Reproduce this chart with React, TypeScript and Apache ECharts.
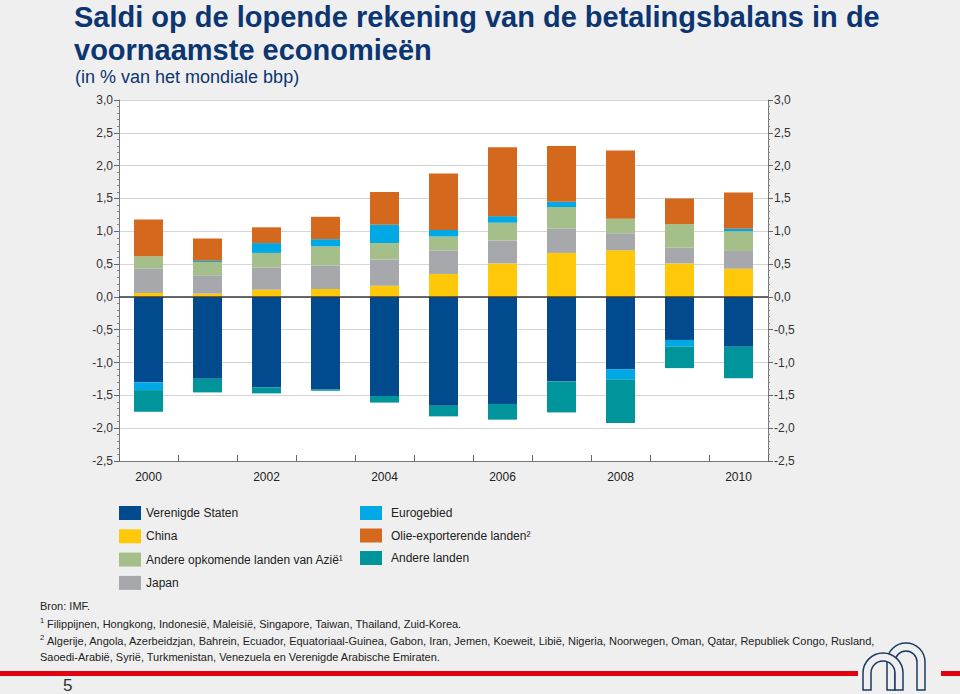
import React, { useEffect, useRef } from "react";
import * as echarts from "echarts";

const categories = ["2000", "2001", "2002", "2003", "2004", "2005", "2006", "2007", "2008", "2009", "2010"];
const verenigdeStaten = [-1.3, -1.245, -1.38, -1.41, -1.51, -1.66, -1.63, -1.29, -1.1, -0.655, -0.76];
const china = [0.06, 0.05, 0.11, 0.12, 0.17, 0.35, 0.51, 0.67, 0.71, 0.51, 0.43];
const japan = [0.37, 0.28, 0.34, 0.36, 0.4, 0.36, 0.35, 0.37, 0.26, 0.24, 0.27];
const andereAzie = [0.19, 0.2, 0.22, 0.29, 0.25, 0.21, 0.27, 0.33, 0.22, 0.36, 0.3];
const eurogebied = [-0.12, 0.02, 0.15, 0.11, 0.28, 0.1, 0.1, 0.08, -0.16, -0.1, 0.04];
const olie = [0.56, 0.34, 0.24, 0.34, 0.5, 0.86, 1.05, 0.85, 1.04, 0.39, 0.55];
const andereLanden = [-0.33, -0.21, -0.09, -0.02, -0.1, -0.16, -0.24, -0.47, -0.66, -0.33, -0.48];

const yTicks = { min: -2.5, max: 3, interval: 0.5 };

const NAMES = {
  us: "Verenigde Staten",
  china: "China",
  azie: "Andere opkomende landen van Azië¹",
  japan: "Japan",
  euro: "Eurogebied",
  olie: "Olie-exporterende landen²",
  andere: "Andere landen",
};

const COLORS = {
  us: "#004a8d",
  china: "#ffc90a",
  azie: "#a5bf8b",
  japan: "#a7a8ab",
  euro: "#00a8e6",
  olie: "#d4681c",
  andere: "#00959b",
};

const FONT = "'Liberation Sans', Arial, Helvetica, sans-serif";
const NAVY = "#0c3672";

const archL =
  "M863,690 L863,673 A20,20 0 0 1 903,673 L903,690 L895,690 L895,673 A12,12 0 0 0 871,673 L871,690 Z";
const archR =
  "M887,690 L887,662 A19,19 0 0 1 925,662 L925,690 L917,690 L917,662 A11,11 0 0 0 895,662 L895,690 Z";

let registered = false;
function registerShapes() {
  if (registered) return;
  registered = true;
  echarts.graphic.registerShape("archL", echarts.graphic.extendPath(archL, {}) as any);
  echarts.graphic.registerShape("archR", echarts.graphic.extendPath(archR, {}) as any);
}

export default function App() {
  const ref = useRef<HTMLDivElement>(null);
  useEffect(() => {
    if (!ref.current) return;
    registerShapes();
    const chart = echarts.init(ref.current, null, { renderer: "svg" });
    const fmt = (v: number) => v.toFixed(1).replace(".", ",");
    const mkSeries = (key: keyof typeof NAMES, data: number[], extra: any = {}) => ({
      type: "bar",
      name: NAMES[key],
      stack: "total",
      data,
      barWidth: 29,
      itemStyle: { color: COLORS[key] },
      emphasis: { disabled: true },
      ...extra,
    });
    const yAxisBase = {
      type: "value",
      min: yTicks.min,
      max: yTicks.max,
      interval: yTicks.interval,
      axisLabel: { formatter: fmt, color: "#333", fontFamily: FONT, fontSize: 12, margin: 6 },
      axisTick: { show: true, length: 5, lineStyle: { color: "#666" } },
      minorTick: { show: true, splitNumber: 5, length: 2, lineStyle: { color: "#888" } },
      axisLine: { show: true, lineStyle: { color: "#777", width: 1 } },
    };
    const foot = "11px " + FONT;
    chart.setOption({
      animation: false,
      backgroundColor: "#efefef",
      textStyle: { fontFamily: FONT },
      title: [
        {
          text: "Saldi op de lopende rekening van de betalingsbalans in de\nvoornaamste economieën",
          left: 74,
          top: 0,
          padding: 0,
          textStyle: { color: NAVY, fontSize: 29, fontWeight: "bold", fontFamily: FONT, lineHeight: 33 },
        },
        {
          text: "(in % van het mondiale bbp)",
          left: 75,
          top: 68,
          padding: 0,
          textStyle: { color: NAVY, fontSize: 18, fontWeight: "normal", fontFamily: FONT },
        },
      ],
      grid: {
        left: 119,
        right: 192,
        top: 100,
        bottom: 233,
        show: true,
        backgroundColor: "#ffffff",
        borderWidth: 0,
      },
      xAxis: {
        type: "category",
        data: categories,
        axisLine: { onZero: false, lineStyle: { color: "#777" } },
        axisTick: { show: true, inside: true, length: 6, interval: 0, lineStyle: { color: "#666" } },
        axisLabel: { interval: 1, color: "#222", fontSize: 12, fontFamily: FONT, margin: 10 },
        splitLine: { show: false },
      },
      yAxis: [
        {
          ...yAxisBase,
          position: "left",
          splitLine: { show: true, lineStyle: { color: "#d4d4d4", width: 1 } },
        },
        {
          ...yAxisBase,
          position: "right",
          splitLine: { show: false },
        },
      ],
      legend: [
        {
          data: [NAMES.us, NAMES.china, NAMES.azie, NAMES.japan],
          orient: "vertical",
          left: 119,
          top: 506,
          padding: 0,
          itemWidth: 22,
          itemHeight: 14,
          itemGap: 9.3,
          icon: "rect",
          selectedMode: false,
          textStyle: { color: "#222", fontSize: 12, fontFamily: FONT },
        },
        {
          data: [NAMES.euro, NAMES.olie, NAMES.andere],
          orient: "vertical",
          left: 360,
          top: 506,
          padding: 0,
          itemWidth: 22,
          itemHeight: 14,
          itemGap: 8.5,
          icon: "rect",
          selectedMode: false,
          textStyle: { color: "#222", fontSize: 12, fontFamily: FONT, padding: [0, 0, 0, 4] },
        },
      ],
      series: [
        mkSeries("us", verenigdeStaten, {
          markLine: {
            silent: true,
            symbol: ["none", "none"],
            label: { show: false },
            lineStyle: { color: "#3a3a3a", width: 1.5, type: "solid" },
            data: [{ yAxis: 0 }],
            z: 10,
          },
        }),
        mkSeries("china", china),
        mkSeries("japan", japan),
        mkSeries("azie", andereAzie),
        mkSeries("euro", eurogebied),
        mkSeries("olie", olie),
        mkSeries("andere", andereLanden),
      ],
      graphic: [
        {
          type: "text",
          left: 40,
          top: 600,
          style: { text: "Bron: IMF.", fill: "#222", font: foot },
        },
        { type: "text", left: 40, top: 616, style: { text: "1", fill: "#222", font: "7.5px " + FONT } },
        {
          type: "text",
          left: 47,
          top: 618,
          style: {
            text: "Filippijnen, Hongkong, Indonesië, Maleisië, Singapore, Taiwan, Thailand, Zuid-Korea.",
            fill: "#222",
            font: foot,
          },
        },
        { type: "text", left: 40, top: 633, style: { text: "2", fill: "#222", font: "7.5px " + FONT } },
        {
          type: "text",
          left: 47,
          top: 635,
          style: {
            text:
              "Algerije, Angola, Azerbeidzjan, Bahrein, Ecuador, Equatoriaal-Guinea, Gabon, Iran, Jemen, Koeweit, Libië, Nigeria, Noorwegen, Oman, Qatar, Republiek Congo, Rusland,",
            fill: "#222",
            font: foot,
          },
        },
        {
          type: "text",
          left: 40,
          top: 651,
          style: {
            text: "Saoedi-Arabië, Syrië, Turkmenistan, Venezuela en Verenigde Arabische Emiraten.",
            fill: "#222",
            font: foot,
          },
        },
        { type: "rect", shape: { x: 0, y: 671, width: 858, height: 5 }, style: { fill: "#e3000f" } },
        { type: "rect", shape: { x: 941, y: 671, width: 19, height: 5 }, style: { fill: "#e3000f" } },
        {
          type: "text",
          left: 63,
          top: 677,
          style: { text: "5", fill: "#333", font: "17px " + FONT },
        },
        {
          type: "archR",
          x: 0,
          y: 0,
          style: { fill: "#efefef", stroke: "#1d3a63", lineWidth: 1.5 },
        },
        {
          type: "archL",
          x: 0,
          y: 0,
          style: { fill: "#efefef", stroke: "#1d3a63", lineWidth: 1.5 },
        },
      ],
    });
    return () => chart.dispose();
  }, []);
  return (
    <div
      ref={ref}
      style={{ position: "fixed", left: 0, top: 0, width: 960, height: 694 }}
    />
  );
}
